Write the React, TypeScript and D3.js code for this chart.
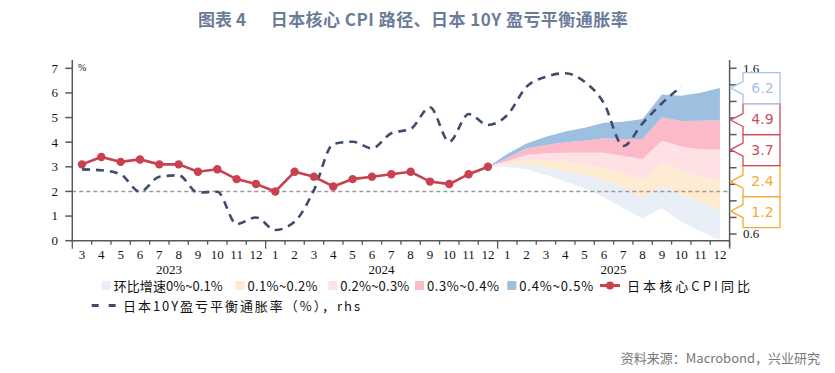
import React, { useEffect, useRef } from "react";
import * as d3 from "d3";

// months shown on the x axis (Mar 2023 - Dec 2025)
const months = [
  "2023-03", "2023-04", "2023-05", "2023-06", "2023-07", "2023-08", "2023-09", "2023-10", "2023-11", "2023-12",
  "2024-01", "2024-02", "2024-03", "2024-04", "2024-05", "2024-06", "2024-07", "2024-08", "2024-09", "2024-10", "2024-11", "2024-12",
  "2025-01", "2025-02", "2025-03", "2025-04", "2025-05", "2025-06", "2025-07", "2025-08", "2025-09", "2025-10", "2025-11", "2025-12",
];
const years = ["2023", "2024", "2025"];

// 日本核心CPI同比, Mar 2023 - Dec 2024 (lhs, %)
const coreCpi = [3.1, 3.4, 3.2, 3.3, 3.1, 3.1, 2.8, 2.9, 2.5, 2.3, 2.0, 2.8, 2.6, 2.2, 2.5, 2.6, 2.7, 2.8, 2.4, 2.3, 2.7, 3.0];

// 日本10Y盈亏平衡通胀率, Mar 2023 - Oct 2025 (rhs, %)
const breakeven = [
  0.99, 0.985, 0.96, 0.855, 0.946, 0.954, 0.85, 0.855, 0.66, 0.70,
  0.624, 0.674, 0.865, 1.143, 1.157, 1.117, 1.208, 1.234, 1.365, 1.157, 1.324, 1.258,
  1.318, 1.489, 1.549, 1.57, 1.519, 1.389, 1.131, 1.268, 1.389, 1.489,
];

// fan edges, Dec 2024 - Dec 2025, one per assumed monthly growth rate
const fanMom00 = [3.0, 3.0, 2.9, 2.67, 2.4, 2.13, 1.76, 1.32, 0.91, 1.32, 0.77, 0.37, 0.03];
const fanMom01 = [3.0, 3.07, 3.07, 2.98, 2.8, 2.67, 2.46, 2.17, 1.72, 2.22, 1.86, 1.58, 1.2];
const fanMom02 = [3.0, 3.14, 3.28, 3.28, 3.21, 3.07, 2.94, 2.71, 2.5, 3.14, 2.84, 2.6, 2.4];
const fanMom03 = [3.0, 3.24, 3.48, 3.55, 3.57, 3.57, 3.57, 3.44, 3.32, 4.06, 3.82, 3.71, 3.7];
const fanMom04 = [3.0, 3.35, 3.75, 3.89, 4.0, 4.06, 4.16, 4.13, 4.13, 5.01, 4.86, 4.87, 4.9];
const fanMom05 = [3.0, 3.52, 3.95, 4.22, 4.43, 4.59, 4.79, 4.83, 4.94, 5.94, 5.89, 6.01, 6.2];
const fanEdges = [fanMom00, fanMom01, fanMom02, fanMom03, fanMom04, fanMom05];

const bandNames = ["环比增速0%~0.1%", "0.1%~0.2%", "0.2%~0.3%", "0.3%~0.4%", "0.4%~0.5%"];
const cpiName = "日本核心CPI同比";
const breakevenName = "日本10Y盈亏平衡通胀率（%），rhs";

const leftTicks = [0, 1, 2, 3, 4, 5, 6, 7];
const rightTicks = [0.6, 0.7, 0.8, 0.9, 1.0, 1.1, 1.2, 1.3, 1.4, 1.5, 1.6];
const rightTickLabels = ["0.6", "1.6"];

const bandColors = ["#e9eff7", "#fdebd2", "#fde1e5", "#fcbac8", "#9dbfe0"];
const calloutColors = ["#f5a934", "#f5a934", "#cf4a5b", "#cf4a5b", "#a6c5e5"];
const RED = "#c9404f";
const NAVY = "#3e4d6b";
const AXIS = "#595959";
const SERIF = "'Liberation Serif', 'Times New Roman', serif";
const CJK = "'Noto Sans CJK SC', 'Noto Sans', sans-serif";

const App: React.FC = () => {
  const ref = useRef<SVGSVGElement | null>(null);

  useEffect(() => {
    if (!ref.current) return;
    const svg = d3.select(ref.current);
    svg.selectAll("*").remove();

    const left = 72.3, right = 729.6, top = 60, bottom = 240.7;

    const x = d3.scaleBand<string>().domain(months).range([left, right]).padding(0);
    const xc = (m: string) => (x(m) as number) + x.bandwidth() / 2;
    const yL = d3.scaleLinear().domain([0, 7]).range([240.7, 68.3]);
    const yR = d3.scaleLinear().domain([0.6, 1.6]).range([234, 68.3]);

    const fanMonths = months.slice(months.indexOf("2024-12"));

    // fan bands
    const g = svg.append("g");
    for (let i = 0; i < 5; i++) {
      const lo = fanEdges[i], hi = fanEdges[i + 1];
      const area = d3.area<string>()
        .x(m => xc(m))
        .y0((_, j) => yL(lo[j]))
        .y1((_, j) => yL(hi[j]));
      g.append("path").attr("d", area(fanMonths)).attr("fill", bandColors[i]);
    }

    // reference line at 2%
    g.append("line")
      .attr("x1", left).attr("x2", right)
      .attr("y1", yL(2)).attr("y2", yL(2))
      .attr("stroke", "#9a9a9a").attr("stroke-width", 1.5)
      .attr("stroke-dasharray", "4,3");

    // breakeven, rhs
    const beLine = d3.line<number>()
      .x((_, i) => xc(months[i]))
      .y(d => yR(d))
      .curve(d3.curveMonotoneX);
    g.append("path").attr("d", beLine(breakeven))
      .attr("fill", "none").attr("stroke", NAVY).attr("stroke-width", 2.6)
      .attr("stroke-dasharray", "8,6");

    // core CPI, lhs
    const cpiLine = d3.line<number>()
      .x((_, i) => xc(months[i]))
      .y(d => yL(d));
    g.append("path").attr("d", cpiLine(coreCpi))
      .attr("fill", "none").attr("stroke", RED).attr("stroke-width", 2.6);
    g.selectAll(".dot").data(coreCpi).enter().append("circle")
      .attr("cx", (_, i) => xc(months[i])).attr("cy", d => yL(d))
      .attr("r", 4.2).attr("fill", RED);

    // left axis
    const ax = svg.append("g").attr("stroke", AXIS);
    ax.append("line").attr("x1", left).attr("x2", left).attr("y1", top).attr("y2", bottom + 1)
      .attr("stroke-width", 1.5);
    leftTicks.forEach(t => {
      ax.append("line").attr("x1", left - 7).attr("x2", left).attr("y1", yL(t)).attr("y2", yL(t))
        .attr("stroke-width", 1.5);
      svg.append("text").attr("x", 58).attr("y", yL(t)).attr("dy", "0.34em")
        .attr("text-anchor", "end").attr("font-family", SERIF).attr("font-size", 13)
        .attr("fill", "#111").text(String(t));
    });
    svg.append("text").attr("x", 78).attr("y", 71).attr("font-family", SERIF)
      .attr("font-size", 10).attr("fill", "#111").text("%");

    // right axis
    ax.append("line").attr("x1", right).attr("x2", right).attr("y1", top).attr("y2", bottom + 6)
      .attr("stroke-width", 1.5);
    rightTicks.forEach(t => {
      ax.append("line").attr("x1", right).attr("x2", right + 7).attr("y1", yR(t)).attr("y2", yR(t))
        .attr("stroke-width", 1.5);
    });
    rightTickLabels.forEach(l => {
      svg.append("text").attr("x", 743).attr("y", yR(+l)).attr("dy", "0.34em")
        .attr("font-family", SERIF).attr("font-size", 13).attr("fill", "#111").text(l);
    });

    // x axis
    ax.append("line").attr("x1", left).attr("x2", right).attr("y1", bottom).attr("y2", bottom)
      .attr("stroke-width", 1.5);
    for (let i = 0; i <= months.length; i++) {
      const xx = left + i * x.step();
      const major = i === 0 || i === months.length || months[i].endsWith("-01");
      ax.append("line").attr("x1", xx).attr("x2", xx).attr("y1", bottom).attr("y2", bottom + (major ? 8 : 4))
        .attr("stroke-width", 1.3);
    }
    months.forEach(m => {
      svg.append("text").attr("x", xc(m)).attr("y", 259).attr("text-anchor", "middle")
        .attr("font-family", SERIF).attr("font-size", 13).attr("fill", "#111")
        .text(String(+m.slice(5)));
    });
    years.forEach(yr => {
      const ms = months.filter(m => m.startsWith(yr));
      const cx = (xc(ms[0]) + xc(ms[ms.length - 1])) / 2;
      svg.append("text").attr("x", cx).attr("y", 274).attr("text-anchor", "middle")
        .attr("font-family", SERIF).attr("font-size", 13).attr("fill", "#111").text(yr);
    });

    // callouts for fan end values
    const tips = fanEdges.slice(1).map(e => e[e.length - 1]);
    const boxH = 31, bx0 = 743, bx1 = 780;
    const meanY = d3.mean(tips, v => yL(v)) as number;
    const stackTop = meanY - (boxH * tips.length) / 2;
    const order = tips.map((v, i) => i).sort((a, b) => tips[b] - tips[a]);
    const cg = svg.append("g");
    [...order].reverse().forEach(i => {
      const k = order.indexOf(i);
      const t = stackTop + k * boxH, b = t + boxH;
      const ty = yL(tips[i]);
      const p = d3.path();
      p.moveTo(bx0, t); p.lineTo(bx1, t); p.lineTo(bx1, b); p.lineTo(bx0, b);
      p.lineTo(bx0, ty + 6.5); p.lineTo(right + 1, ty); p.lineTo(bx0, ty - 6.5); p.closePath();
      cg.append("path").attr("d", p.toString()).attr("fill", "#fff")
        .attr("stroke", calloutColors[i]).attr("stroke-width", 1.3);
      cg.append("text").attr("x", (bx0 + bx1) / 2 + 1).attr("y", (t + b) / 2).attr("dy", "0.35em")
        .attr("text-anchor", "middle").attr("font-family", "'DejaVu Sans', sans-serif")
        .attr("font-size", 14).attr("fill", calloutColors[i]).text(d3.format(".1f")(tips[i]));
    });

    // legend
    const lg = svg.append("g").attr("font-family", CJK).attr("font-size", 13).attr("fill", "#111");
    const boxX = [101.7, 235.5, 328.3, 415, 507.3];
    const textW = [109, 70, 69, 72, 74];
    bandNames.forEach((n, i) => {
      lg.append("rect").attr("x", boxX[i]).attr("y", 281).attr("width", 9).attr("height", 9)
        .attr("fill", bandColors[i]);
      lg.append("text").attr("x", boxX[i] + 12).attr("y", 290.5).attr("textLength", textW[i])
        .attr("lengthAdjust", "spacing").text(n);
    });
    lg.append("line").attr("x1", 600).attr("x2", 620).attr("y1", 285.5).attr("y2", 285.5)
      .attr("stroke", RED).attr("stroke-width", 3);
    lg.append("circle").attr("cx", 610).attr("cy", 285.5).attr("r", 4).attr("fill", RED);
    lg.append("text").attr("x", 627).attr("y", 290.5).attr("textLength", 123)
      .attr("lengthAdjust", "spacing").text(cpiName);
    lg.append("line").attr("x1", 91.7).attr("x2", 116).attr("y1", 305.5).attr("y2", 305.5)
      .attr("stroke", NAVY).attr("stroke-width", 3).attr("stroke-dasharray", "7,10");
    lg.append("text").attr("x", 123).attr("y", 310.5).attr("textLength", 237)
      .attr("lengthAdjust", "spacing").text(breakevenName);

    // title & source
    svg.append("text").attr("x", 246).attr("y", 26).attr("text-anchor", "end")
      .attr("font-family", CJK).attr("font-size", 17).attr("font-weight", "bold")
      .attr("fill", "#6b7c98").text("图表 4");
    svg.append("text").attr("x", 270.7).attr("y", 26).attr("textLength", 357)
      .attr("lengthAdjust", "spacing")
      .attr("font-family", CJK).attr("font-size", 17).attr("font-weight", "bold")
      .attr("fill", "#6b7c98").text("日本核心 CPI 路径、日本 10Y 盈亏平衡通胀率");
    svg.append("text").attr("x", 820).attr("y", 363).attr("text-anchor", "end")
      .attr("font-family", CJK).attr("font-size", 13).attr("fill", "#777")
      .text("资料来源：Macrobond，兴业研究");
  }, []);

  return (
    <svg
      ref={ref}
      width={835}
      height={373}
      style={{ position: "absolute", left: 0, top: 0, background: "#fff" }}
    />
  );
};

export default App;
